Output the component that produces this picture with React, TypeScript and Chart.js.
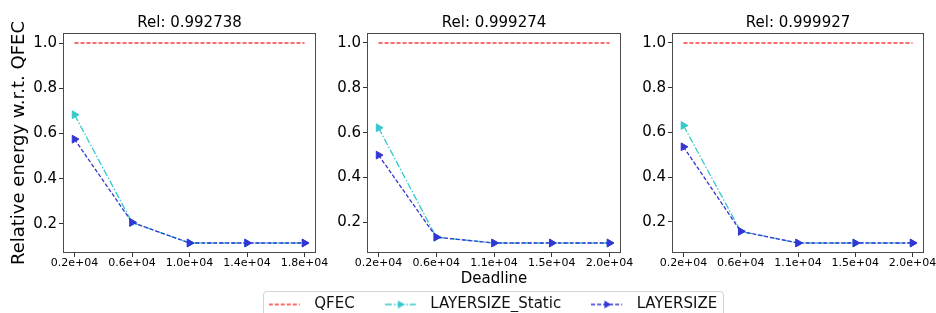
import React, { useEffect, useRef } from 'react';
import { Chart, registerables } from 'chart.js';

Chart.register(...registerables);

const FONT = "'DejaVu Sans', 'Liberation Sans', sans-serif";

// ---- data ----
const seriesNames = ['QFEC', 'LAYERSIZE_Static', 'LAYERSIZE'];
const panelTitles = ['Rel: 0.992738', 'Rel: 0.999274', 'Rel: 0.999927'];
const yAxisTitle = 'Relative energy w.r.t. QFEC';
const xAxisTitle = 'Deadline';

const deadlineTicks1 = ['0.2e+04', '0.6e+04', '1.0e+04', '1.4e+04', '1.8e+04'];
const deadlineTicks2 = ['0.2e+04', '0.6e+04', '1.1e+04', '1.5e+04', '2.0e+04'];
const deadlineTicks3 = ['0.2e+04', '0.6e+04', '1.1e+04', '1.5e+04', '2.0e+04'];

const qfec1 = [1.0, 1.0, 1.0, 1.0, 1.0];
const static1 = [0.683, 0.207, 0.116, 0.116, 0.116];
const layer1 = [0.575, 0.207, 0.116, 0.116, 0.116];

const qfec2 = [1.0, 1.0, 1.0, 1.0, 1.0];
const static2 = [0.622, 0.134, 0.108, 0.108, 0.108];
const layer2 = [0.5, 0.134, 0.108, 0.108, 0.108];

const qfec3 = [1.0, 1.0, 1.0, 1.0, 1.0];
const static3 = [0.631, 0.158, 0.106, 0.106, 0.106];
const layer3 = [0.536, 0.158, 0.106, 0.106, 0.106];

const yTickValues = [0.2, 0.4, 0.6, 0.8, 1.0];

// ---- styles ----
const RED = '#FF3B3B';
const CYAN = '#36C8CC';
const BLUE = '#3535D3';
const DASH = [4, 2];
const DASHDOT = [7, 2, 1.5, 2];

const framePlugin = {
  id: 'frame',
  afterDatasetsDraw(chart: any) {
    const { ctx, chartArea: a } = chart;
    ctx.save();
    ctx.strokeStyle = '#4a4a4a';
    ctx.lineWidth = 1;
    const l = Math.floor(a.left) + 0.5;
    const t = Math.floor(a.top) + 0.5;
    const r = Math.round(a.right) - 0.5;
    const b = Math.round(a.bottom) - 0.5;
    ctx.strokeRect(l, t, r - l, b - t);
    ctx.restore();
  },
};

// axes title centred over the plot area (matplotlib style)
const areaTitlePlugin = {
  id: 'areaTitle',
  afterDraw(chart: any, _args: any, opts: any) {
    const { ctx, chartArea: a } = chart;
    ctx.save();
    ctx.fillStyle = '#000';
    ctx.font = `15px ${FONT}`;
    ctx.textAlign = 'center';
    ctx.textBaseline = 'middle';
    ctx.fillText(opts.text, (a.left + a.right) / 2, a.top - 10);
    ctx.restore();
  },
};

type PanelProps = {
  title: string;
  ticks: string[];
  qfec: number[];
  stat: number[];
  layer: number[];
  areaLeft: number;
  areaWidth: number;
  yWidth: number;
  rightPad: number;
  showY: boolean;
  showX: boolean;
};

function Panel(p: PanelProps) {
  const ref = useRef<HTMLCanvasElement>(null);
  const canvasLeft = p.areaLeft - p.yWidth;
  const canvasWidth = p.yWidth + p.areaWidth + p.rightPad;
  const H = 313;
  useEffect(() => {
    const all = [...p.qfec, ...p.stat, ...p.layer];
    const dMin = Math.min(...all);
    const dMax = Math.max(...all);
    const yMin = dMin - 0.05 * (dMax - dMin);
    const yMax = dMax + 0.05 * (dMax - dMin);
    const n = p.ticks.length;
    const xMargin = 0.05 * (n - 1);
    const toXY = (arr: number[]) => arr.map((y, x) => ({ x, y }));
    const chart = new Chart(ref.current!, {
      type: 'line',
      data: {
        datasets: [
          {
            label: seriesNames[0],
            data: toXY(p.qfec),
            borderColor: RED,
            backgroundColor: RED,
            borderDash: DASH,
            borderWidth: 1.3,
            pointRadius: 0,
            fill: false,
            order: 3,
          },
          {
            label: seriesNames[1],
            data: toXY(p.stat),
            borderColor: CYAN,
            backgroundColor: CYAN,
            borderDash: DASHDOT,
            borderWidth: 1.3,
            pointStyle: 'triangle',
            pointRotation: 90,
            pointRadius: 4.5,
            pointBackgroundColor: CYAN,
            pointBorderColor: CYAN,
            pointBorderWidth: 1,
            fill: false,
            order: 2,
          },
          {
            label: seriesNames[2],
            data: toXY(p.layer),
            borderColor: BLUE,
            backgroundColor: BLUE,
            borderDash: DASH,
            borderWidth: 1.3,
            pointStyle: 'triangle',
            pointRotation: 90,
            pointRadius: 4.5,
            pointBackgroundColor: BLUE,
            pointBorderColor: BLUE,
            pointBorderWidth: 1,
            fill: false,
            order: 1,
          },
        ],
      },
      options: {
        animation: false,
        responsive: false,
        events: [],
        layout: { padding: { left: 0, right: p.rightPad, top: 33, bottom: 0 } },
        plugins: {
          legend: { display: false },
          tooltip: { enabled: false },
          title: { display: false },
          areaTitle: { text: p.title },
        },
        scales: {
          x: {
            type: 'linear',
            min: -xMargin,
            max: n - 1 + xMargin,
            afterBuildTicks: (s: any) => {
              s.ticks = p.ticks.map((_, i) => ({ value: i }));
            },
            afterFit: (s: any) => {
              s.height = 60;
            },
            ticks: {
              autoSkip: false,
              maxRotation: 0,
              color: '#000',
              padding: 0,
              font: { family: FONT, size: 11 },
              callback: (v: any) => p.ticks[Math.round(Number(v))] ?? '',
            },
            grid: { drawOnChartArea: false, drawTicks: true, tickLength: 4, color: '#333' },
            border: { display: false },
            title: {
              display: p.showX,
              text: xAxisTitle,
              color: '#000',
              font: { family: FONT, size: 15 },
              padding: { top: 0, bottom: 25 },
            },
          },
          y: {
            type: 'linear',
            min: yMin,
            max: yMax,
            afterBuildTicks: (s: any) => {
              s.ticks = yTickValues.map((v) => ({ value: v }));
            },
            afterFit: (s: any) => {
              s.width = p.yWidth;
            },
            ticks: {
              color: '#000',
              padding: 2,
              font: { family: FONT, size: 15 },
              callback: (v: any) => Number(v).toFixed(1),
            },
            grid: { drawOnChartArea: false, drawTicks: true, tickLength: 4, color: '#333' },
            border: { display: false },
            title: {
              display: p.showY,
              text: yAxisTitle,
              color: '#000',
              font: { family: FONT, size: 18 },
              padding: { top: 9, bottom: 0 },
            },
          },
        },
      },
      plugins: [framePlugin, areaTitlePlugin],
    } as any);
    return () => chart.destroy();
  }, []);
  return (
    <canvas
      ref={ref}
      width={canvasWidth}
      height={H}
      style={{ position: 'absolute', left: canvasLeft, top: 0, width: canvasWidth, height: H }}
    />
  );
}

function makeSample(color: string, dash: number[], marker: boolean) {
  const c = document.createElement('canvas');
  c.width = 38;
  c.height = 12;
  const ctx = c.getContext('2d')!;
  ctx.strokeStyle = color;
  ctx.lineWidth = 1.3;
  ctx.setLineDash(dash);
  ctx.beginPath();
  ctx.moveTo(0, 6);
  ctx.lineTo(31, 6);
  ctx.stroke();
  if (marker) {
    ctx.setLineDash([]);
    ctx.fillStyle = color;
    const cx = 15.5;
    const r = 4.5;
    ctx.beginPath();
    ctx.moveTo(cx + r, 6);
    ctx.lineTo(cx - r / 2, 6 - r * 0.866);
    ctx.lineTo(cx - r / 2, 6 + r * 0.866);
    ctx.closePath();
    ctx.fill();
  }
  return c;
}

const LEGEND_W = 600;
const LEGEND_CENTER = 493;

function Legend() {
  const ref = useRef<HTMLCanvasElement>(null);
  useEffect(() => {
    const samples = [
      makeSample(RED, DASH, false),
      makeSample(CYAN, DASHDOT, true),
      makeSample(BLUE, DASH, true),
    ];
    const colors = [RED, CYAN, BLUE];
    const chart = new Chart(ref.current!, {
      type: 'line',
      data: {
        datasets: seriesNames.map((name, i) => ({ label: name, data: [], borderColor: colors[i] })),
      },
      options: {
        animation: false,
        responsive: false,
        events: [],
        scales: { x: { display: false }, y: { display: false } },
        plugins: {
          tooltip: { enabled: false },
          legend: {
            display: true,
            position: 'top',
            labels: {
              usePointStyle: true,
              pointStyleWidth: 38,
              boxHeight: 15,
              padding: 30,
              color: '#111',
              font: { family: FONT, size: 15 },
              generateLabels: () =>
                seriesNames.map((name, i) => ({
                  text: name,
                  pointStyle: samples[i],
                  fillStyle: colors[i],
                  strokeStyle: colors[i],
                  lineWidth: 0,
                  hidden: false,
                  datasetIndex: i,
                  fontColor: '#111',
                })),
            },
          },
        },
      },
    } as any);
    return () => chart.destroy();
  }, []);
  return (
    <canvas
      ref={ref}
      width={LEGEND_W}
      height={90}
      style={{
        position: 'absolute',
        left: LEGEND_CENTER - LEGEND_W / 2,
        top: 267,
        width: LEGEND_W,
        height: 90,
      }}
    />
  );
}

export default function App() {
  return (
    <div
      style={{
        position: 'fixed',
        left: 0,
        top: 0,
        width: 936,
        height: 313,
        overflow: 'hidden',
        background: '#fff',
      }}
    >
      <Panel
        title={panelTitles[0]}
        ticks={deadlineTicks1}
        qfec={qfec1}
        stat={static1}
        layer={layer1}
        areaLeft={63}
        areaWidth={253}
        yWidth={63}
        rightPad={22}
        showY={true}
        showX={false}
      />
      <Panel
        title={panelTitles[1]}
        ticks={deadlineTicks2}
        qfec={qfec2}
        stat={static2}
        layer={layer2}
        areaLeft={367}
        areaWidth={254}
        yWidth={50}
        rightPad={22}
        showY={false}
        showX={true}
      />
      <Panel
        title={panelTitles[2]}
        ticks={deadlineTicks3}
        qfec={qfec3}
        stat={static3}
        layer={layer3}
        areaLeft={672}
        areaWidth={252}
        yWidth={50}
        rightPad={30}
        showY={false}
        showX={false}
      />
      <div
        style={{
          position: 'absolute',
          left: 263,
          top: 291,
          width: 461,
          height: 40,
          border: '1px solid #d4d4d4',
          borderRadius: 4,
          boxSizing: 'border-box',
        }}
      />
      <Legend />
    </div>
  );
}
